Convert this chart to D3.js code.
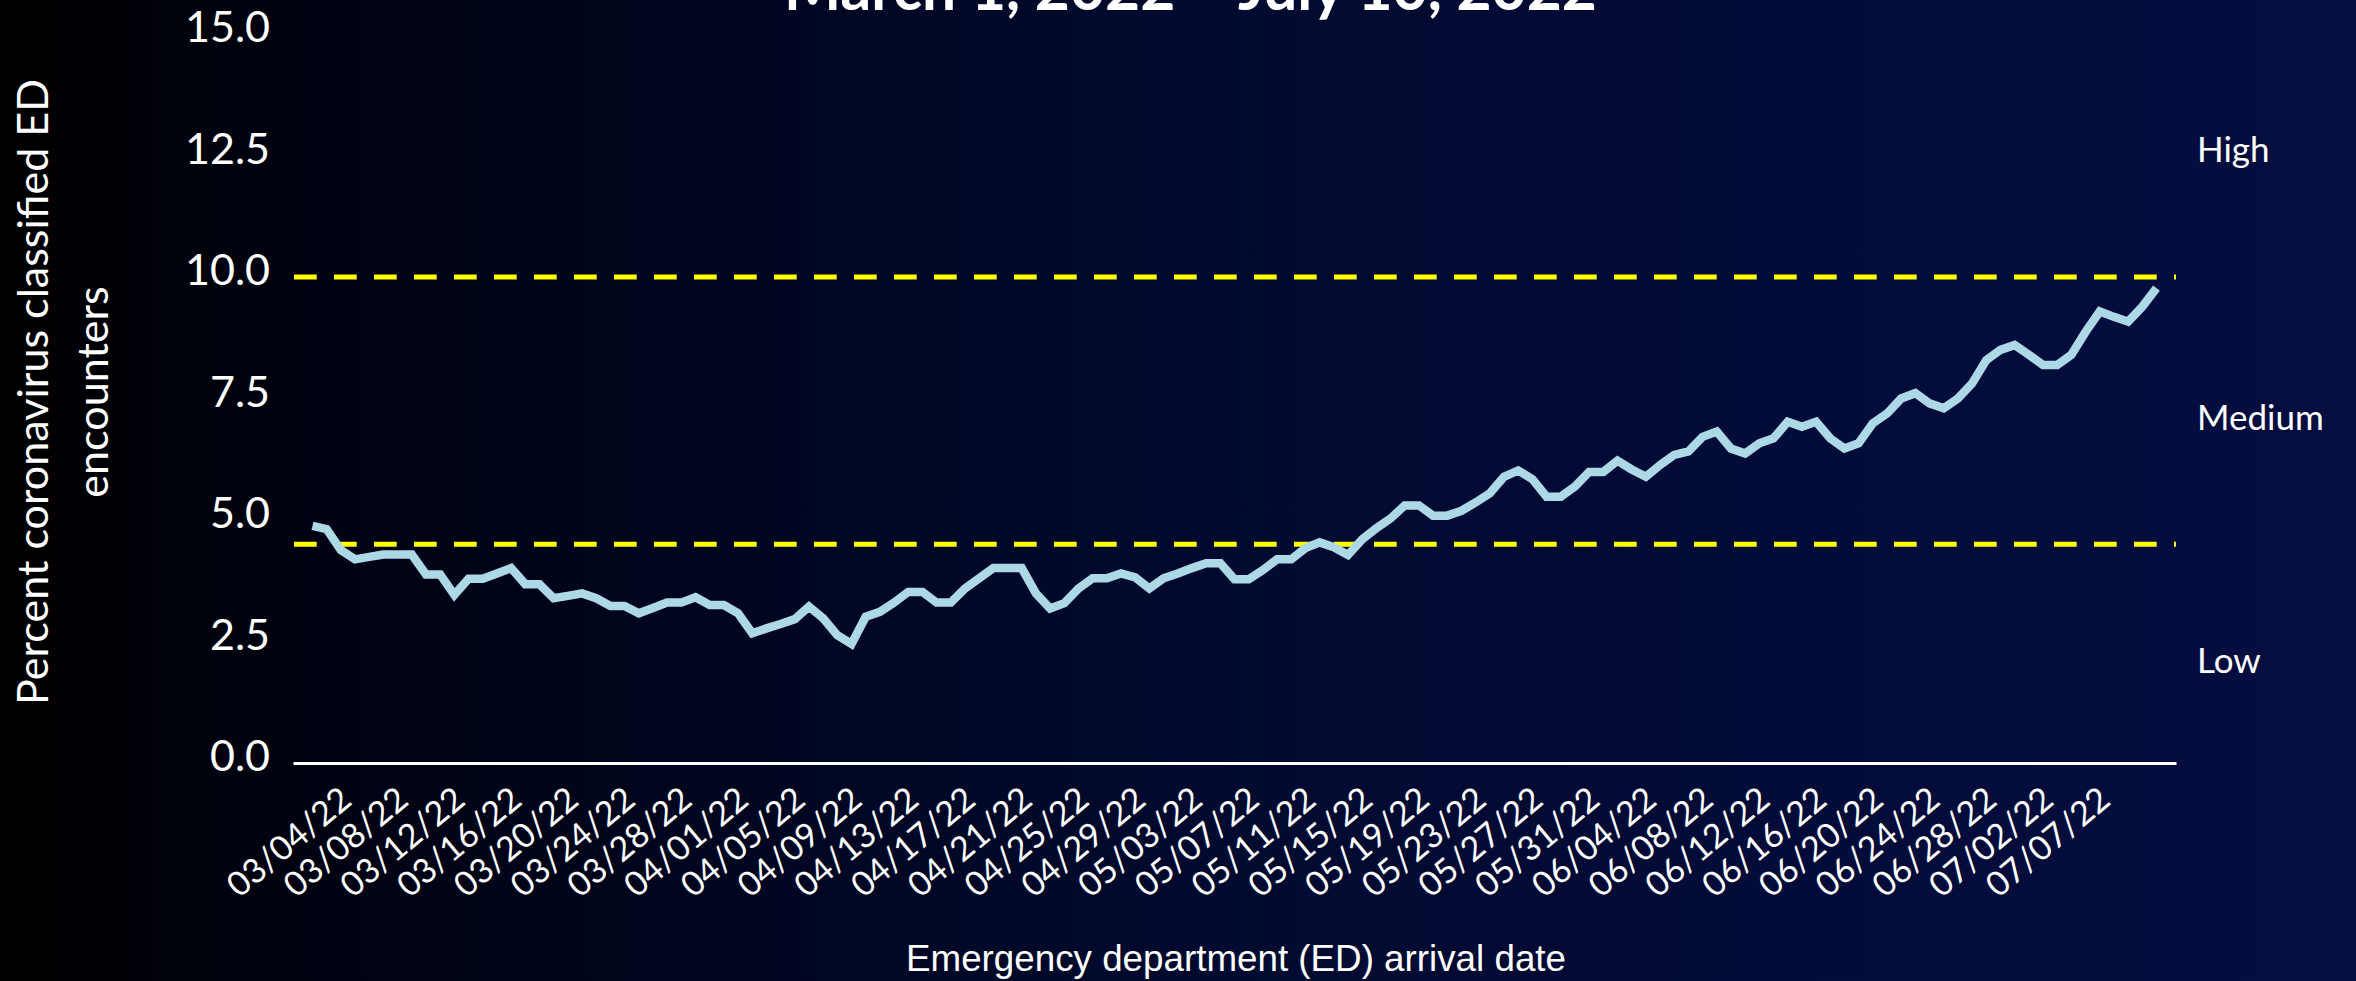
<!DOCTYPE html>
<html><head><meta charset="utf-8">
<script src="https://cdn.jsdelivr.net/npm/d3@7"></script>
<style>html,body{margin:0;padding:0;background:#000;overflow:hidden}</style>
</head><body><svg id="c" width="2356" height="981"></svg>
<script>
// ---------- data ----------
const titleText = "March 1, 2022 \u2013 July 10, 2022";
const yTitleLines = ["Percent coronavirus classified ED", "encounters"];
const xTitle = "Emergency department (ED) arrival date";
const startDate = "2022-03-01", endDate = "2022-07-10";
const missingDates = ["07/04/22"];
const values = [
 4.88,4.81,4.38,4.19,4.24,4.29,4.29,4.29,3.88,3.88,
 3.46,3.79,3.79,3.90,4.01,3.68,3.68,3.39,3.44,3.49,
 3.39,3.23,3.23,3.08,3.19,3.30,3.30,3.41,3.25,3.25,
 3.08,2.67,2.77,2.86,2.96,3.22,2.98,2.63,2.45,3.01,
 3.11,3.30,3.52,3.52,3.30,3.30,3.59,3.80,4.01,4.01,
 4.01,3.49,3.18,3.29,3.59,3.80,3.80,3.90,3.82,3.59,
 3.80,3.90,4.01,4.11,4.11,3.78,3.78,3.97,4.19,4.19,
 4.42,4.54,4.44,4.28,4.60,4.83,5.03,5.30,5.30,5.09,
 5.09,5.19,5.36,5.55,5.89,6.02,5.84,5.48,5.48,5.69,
 5.99,5.99,6.22,6.04,5.89,6.13,6.34,6.41,6.71,6.82,
 6.47,6.37,6.58,6.68,7.02,6.92,7.02,6.68,6.47,6.58,
 6.99,7.19,7.50,7.61,7.40,7.30,7.50,7.81,8.29,8.50,
 8.60,8.40,8.19,8.19,8.40,8.87,9.29,9.18,9.08,9.39,
 9.77];
const tickLabels = ["03/04/22","03/08/22","03/12/22","03/16/22","03/20/22","03/24/22","03/28/22",
 "04/01/22","04/05/22","04/09/22","04/13/22","04/17/22","04/21/22","04/25/22","04/29/22",
 "05/03/22","05/07/22","05/11/22","05/15/22","05/19/22","05/23/22","05/27/22","05/31/22",
 "06/04/22","06/08/22","06/12/22","06/16/22","06/20/22","06/24/22","06/28/22","07/02/22","07/07/22"];
const yTicks = [0, 2.5, 5, 7.5, 10, 12.5, 15];
const thresholds = [4.5, 10];
const levelNames = ["High", "Medium", "Low"];

// categories (calendar days in range, minus missing ones)
const fmt = d3.timeFormat("%m/%d/%y");
const parse = d3.timeParse("%Y-%m-%d");
const categories = d3.timeDay.range(parse(startDate), d3.timeDay.offset(parse(endDate), 1))
  .map(fmt).filter(d => !missingDates.includes(d));

// ---------- layout ----------
const W = 2356, H = 981;
const svg = d3.select("#c");
const defs = svg.append("defs");
const grad = defs.append("linearGradient").attr("id", "bg").attr("x1", 0).attr("x2", 1).attr("y1", 0).attr("y2", 0);
[[0,"#000000"],[0.12,"#000210"],[0.3,"#00061f"],[0.5,"#010a2e"],[0.75,"#030b38"],[1,"#050e40"]]
  .forEach(([o,c]) => grad.append("stop").attr("offset", o).attr("stop-color", c));
svg.append("rect").attr("width", W).attr("height", H).attr("fill", "url(#bg)");

const x = d3.scalePoint().domain(categories).range([293, 2176]).padding(1.375);
const y = d3.scaleLinear().domain([0, 15]).range([763, 34]);

const fitText = (sel, target) => {
  const fs = parseFloat(sel.attr("font-size"));
  const w = sel.node().getComputedTextLength();
  sel.attr("font-size", (fs * target / w).toFixed(2));
};

// title (mostly clipped at top, as in the source)
const t = svg.append("text").attr("x", 1190.5).attr("y", 10).attr("text-anchor", "middle")
  .attr("font-family", "Lato").attr("font-weight", "bold").attr("font-size", 54)
  .attr("fill", "#fff").text(titleText);
fitText(t, 813);

// y tick labels
svg.append("g").selectAll("text").data(yTicks).join("text")
  .attr("x", 270).attr("y", d => y(d) + 8).attr("text-anchor", "end")
  .attr("font-family", "Lato").attr("font-size", 43).attr("fill", "#fff")
  .text(d => d3.format(".1f")(d));

// y title
const yt1 = svg.append("text").attr("transform", "translate(48,392) rotate(-90)")
  .attr("text-anchor", "middle").attr("font-family", "Lato").attr("font-size", 40)
  .attr("fill", "#fff").text(yTitleLines[0]);
fitText(yt1, 626);
svg.append("text").attr("transform", "translate(108,392) rotate(-90)")
  .attr("text-anchor", "middle").attr("font-family", "Lato").attr("font-size", yt1.attr("font-size"))
  .attr("fill", "#fff").text(yTitleLines[1]);

// threshold lines
svg.append("g").selectAll("line").data(thresholds).join("line")
  .attr("x1", x.range()[0] + 1).attr("x2", x.range()[1]).attr("y1", d => y(d)).attr("y2", d => y(d))
  .attr("stroke", "#ffff00").attr("stroke-width", 5).attr("stroke-dasharray", "22.7 17.3");

// x axis
const ax = svg.append("g").attr("transform", `translate(0,${y(0)})`)
  .call(d3.axisBottom(x).tickValues(tickLabels).tickSize(0).tickSizeOuter(0).tickPadding(0));
ax.select(".domain").attr("stroke", "#fff").attr("stroke-width", 3);
ax.selectAll(".tick text")
  .attr("font-family", "Lato").attr("font-size", 34).attr("fill", "#fff")
  .attr("text-anchor", "end").attr("dy", null).attr("y", 0)
  .attr("transform", "translate(-2,40) rotate(-40)");

// x title
const xt = svg.append("text").attr("x", 1236).attr("y", 971).attr("text-anchor", "middle")
  .attr("font-family", "Liberation Sans").attr("font-size", 35).attr("fill", "#fff").text(xTitle);
fitText(xt, 660);

// data line
const line = d3.line().x((d, i) => x(categories[i])).y(d => y(d)).curve(d3.curveLinear);
svg.append("path").datum(values).attr("d", line)
  .attr("fill", "none").attr("stroke", "#add8e6").attr("stroke-width", 8.5)
  .attr("stroke-linejoin", "miter").attr("stroke-linecap", "butt");

// level labels
const levelY = [y(12.37), y(6.85), y(1.85)];
svg.append("g").selectAll("text").data(levelNames).join("text")
  .attr("x", 2197).attr("y", (d, i) => levelY[i])
  .attr("font-family", "Lato").attr("font-size", 35).attr("fill", "#fff").text(d => d);
</script></body></html>
